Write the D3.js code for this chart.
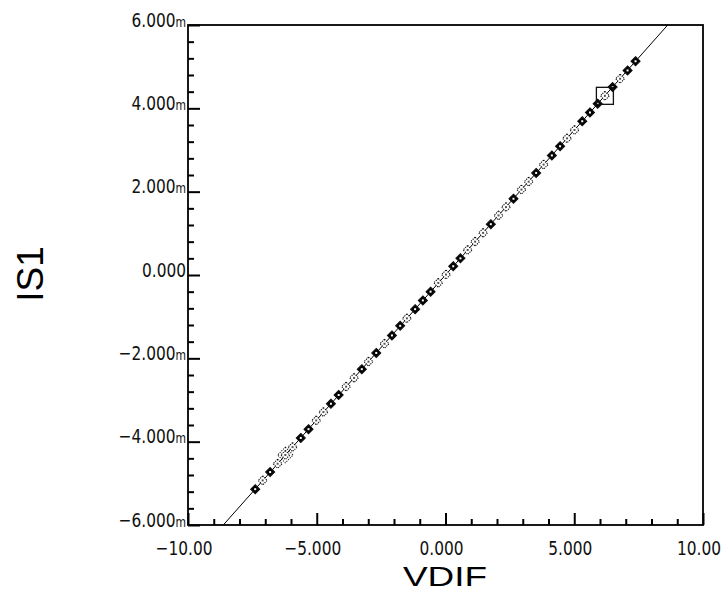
<!DOCTYPE html>
<html>
<head>
<meta charset="utf-8">
<script src="https://cdn.jsdelivr.net/npm/d3@7"></script>
<style>
  body { margin: 0; background: #fff; }
  svg { display: block; }
</style>
</head>
<body>
<div id="chart"></div>
<script>
// sweep points (VDIF in V, IS1 in mA)
const vdif = [-7.39, -7.10, -6.81, -6.52, -6.22, -5.94, -5.62, -5.32, -5.02, -4.74,
              -4.45, -4.15, -3.86, -3.55, -3.25, -2.99, -2.69, -2.37, -2.08, -1.76,
              -1.50, -1.18, -0.88, -0.58, -0.28, 0.02, 0.30, 0.58, 0.86, 1.15,
              1.46, 1.76, 2.06, 2.35, 2.64, 2.95, 3.23, 3.52, 3.81, 4.13,
              4.45, 4.72, 5.01, 5.31, 5.61, 5.91, 6.19, 6.49, 6.78, 7.07, 7.38];
const is1 = [-5.14, -4.93, -4.73, -4.53, -4.32, -4.13, -3.91, -3.70, -3.49, -3.29,
             -3.09, -2.88, -2.68, -2.47, -2.26, -2.08, -1.87, -1.65, -1.45, -1.22,
             -1.04, -0.82, -0.61, -0.40, -0.19, 0.01, 0.21, 0.40, 0.60, 0.80,
             1.01, 1.22, 1.43, 1.63, 1.83, 2.05, 2.24, 2.45, 2.65, 2.87,
             3.09, 3.28, 3.48, 3.69, 3.90, 4.11, 4.30, 4.51, 4.71, 4.91, 5.13];
// s = solid marker, o = open marker
const kind = ["s","o","s","o","o","o","s","s","o","o",
              "s","s","o","o","s","o","s","o","s","s",
              "o","s","s","s","o","o","s","s","o","o",
              "o","s","o","o","s","o","o","s","o","s",
              "s","o","o","s","s","s","o","s","o","s","s"];

// trace line drawn across the whole plot
const lineVdif = [-8.63, 8.63];
const lineIs1 = [-6.0, 6.0];

// cursors
const squareCursor = { v: 6.19, i: 4.30 };
const diamondCursor = { v: -6.22, i: -4.32 };

const xMajor = [-10, -5, 0, 5, 10];
const xMinor = [-9, -8, -7, -6, -4, -3, -2, -1, 1, 2, 3, 4, 6, 7, 8, 9];
const xLabels = ["−10.00", "−5.000", "0.000", "5.000", "10.00"];
const yMajor = [-6, -4, -2, 0, 2, 4, 6];
const yMinor = [-5.6, -5.2, -4.8, -4.4, -3.6, -3.2, -2.8, -2.4, -1.6, -1.2, -0.8, -0.4,
                0.4, 0.8, 1.2, 1.6, 2.4, 2.8, 3.2, 3.6, 4.4, 4.8, 5.2, 5.6];
const yLabels = ["−6.000", "−4.000", "−2.000", "0.000", "2.000", "4.000", "6.000"];
const yUnits = ["m", "m", "m", "", "m", "m", "m"];

const W = 723, H = 598;
const pL = 188, pR = 703, pT = 25, pB = 525;

const svg = d3.select("#chart").append("svg")
    .attr("width", W)
    .attr("height", H);

const x = d3.scaleLinear().domain([-10, 10]).range([pL, pR]);
const y = d3.scaleLinear().domain([-6, 6]).range([pB, pT]);

svg.append("defs").append("clipPath").attr("id", "plot")
  .append("rect")
    .attr("x", pL).attr("y", pT)
    .attr("width", pR - pL).attr("height", pB - pT);

// inward ticks via d3 axes (no labels, labels drawn separately)
function tickAxis(axis, vals, len) {
    return axis.tickValues(vals).tickSize(-len).tickFormat("");
}
[[xMajor, 12], [xMinor, 6]].forEach(([vals, len]) => {
    const g = svg.append("g")
        .attr("transform", `translate(0,${pB})`)
        .call(tickAxis(d3.axisBottom(x), vals, len));
    g.select(".domain").remove();
    g.selectAll("line").attr("stroke", "#000").attr("stroke-width", 2);
});
[[yMajor, 12], [yMinor, 6]].forEach(([vals, len]) => {
    const g = svg.append("g")
        .attr("transform", `translate(${pL},0)`)
        .call(tickAxis(d3.axisLeft(y), vals, len));
    g.select(".domain").remove();
    g.selectAll("line").attr("stroke", "#000").attr("stroke-width", 2);
});

// frame
svg.append("rect")
    .attr("x", pL).attr("y", pT)
    .attr("width", pR - pL).attr("height", pB - pT)
    .attr("fill", "none")
    .attr("stroke", "#000")
    .attr("stroke-width", 1.8);

// tick labels
const tickFont = "DejaVu Sans, sans-serif";

svg.append("g").selectAll("text")
  .data(xMajor)
  .join("text")
    .attr("transform", d => `translate(${x(d) - 4},${pB + 30}) scale(0.77,1)`)
    .attr("text-anchor", "middle")
    .attr("font-family", tickFont)
    .attr("font-size", 20)
    .attr("fill", "#111")
    .text((d, i) => xLabels[i]);

const yl = svg.append("g").selectAll("text")
  .data(yMajor)
  .join("text")
    .attr("transform", d => `translate(186,${y(d) + 1.5}) scale(0.77,1)`)
    .attr("text-anchor", "end")
    .attr("font-family", tickFont)
    .attr("font-size", 20)
    .attr("fill", "#111");
yl.append("tspan").text((d, i) => yLabels[i]);
yl.append("tspan").attr("font-size", 14).text((d, i) => yUnits[i]);

// axis titles
svg.append("text")
    .attr("transform", `translate(445,586) scale(1.32,1)`)
    .attr("text-anchor", "middle")
    .attr("font-family", "Liberation Sans, Arial, sans-serif")
    .attr("font-size", 28)
    .attr("fill", "#000")
    .text("VDIF");

svg.append("text")
    .attr("transform", `translate(43,274) rotate(-90)`)
    .attr("text-anchor", "middle")
    .attr("font-family", "Liberation Sans, Arial, sans-serif")
    .attr("font-size", 37)
    .attr("fill", "#000")
    .text("IS1");

// trace
const plot = svg.append("g").attr("clip-path", "url(#plot)");

plot.append("path")
    .datum(d3.zip(lineVdif, lineIs1))
    .attr("d", d3.line().x(d => x(d[0])).y(d => y(d[1])))
    .attr("fill", "none")
    .attr("stroke", "#000")
    .attr("stroke-width", 1);

// markers
const pts = vdif.map((v, i) => ({ v, i: is1[i], k: kind[i] }));
const diamond = "M0,-4.5L4.5,0L0,4.5L-4.5,0Z";

const mk = plot.selectAll("g.mk")
  .data(pts)
  .join("g")
    .attr("class", "mk")
    .attr("transform", d => `translate(${x(d.v)},${y(d.i)})`);

mk.append("path")
    .attr("d", diamond)
    .attr("fill", d => d.k === "s" ? "#000" : "#fff")
    .attr("stroke", "#111")
    .attr("stroke-width", 1.1)
    .attr("stroke-dasharray", d => d.k === "s" ? null : "1.2,1");

mk.append("rect")
    .attr("x", -1).attr("y", -1)
    .attr("width", 2).attr("height", 2)
    .attr("fill", d => d.k === "s" ? "#fff" : "#555");

// cursors
svg.append("rect")
    .attr("x", x(squareCursor.v) - 8.5)
    .attr("y", y(squareCursor.i) - 8.5)
    .attr("width", 17).attr("height", 17)
    .attr("fill", "none")
    .attr("stroke", "#111")
    .attr("stroke-width", 1.3);

svg.append("path")
    .attr("transform", `translate(${x(diamondCursor.v)},${y(diamondCursor.i)}) rotate(45)`)
    .attr("d", "M-5.5,-5.5H5.5V5.5H-5.5Z")
    .attr("fill", "none")
    .attr("stroke", "#111")
    .attr("stroke-width", 1)
    .attr("stroke-dasharray", "1.2,1.2");
</script>
</body>
</html>
